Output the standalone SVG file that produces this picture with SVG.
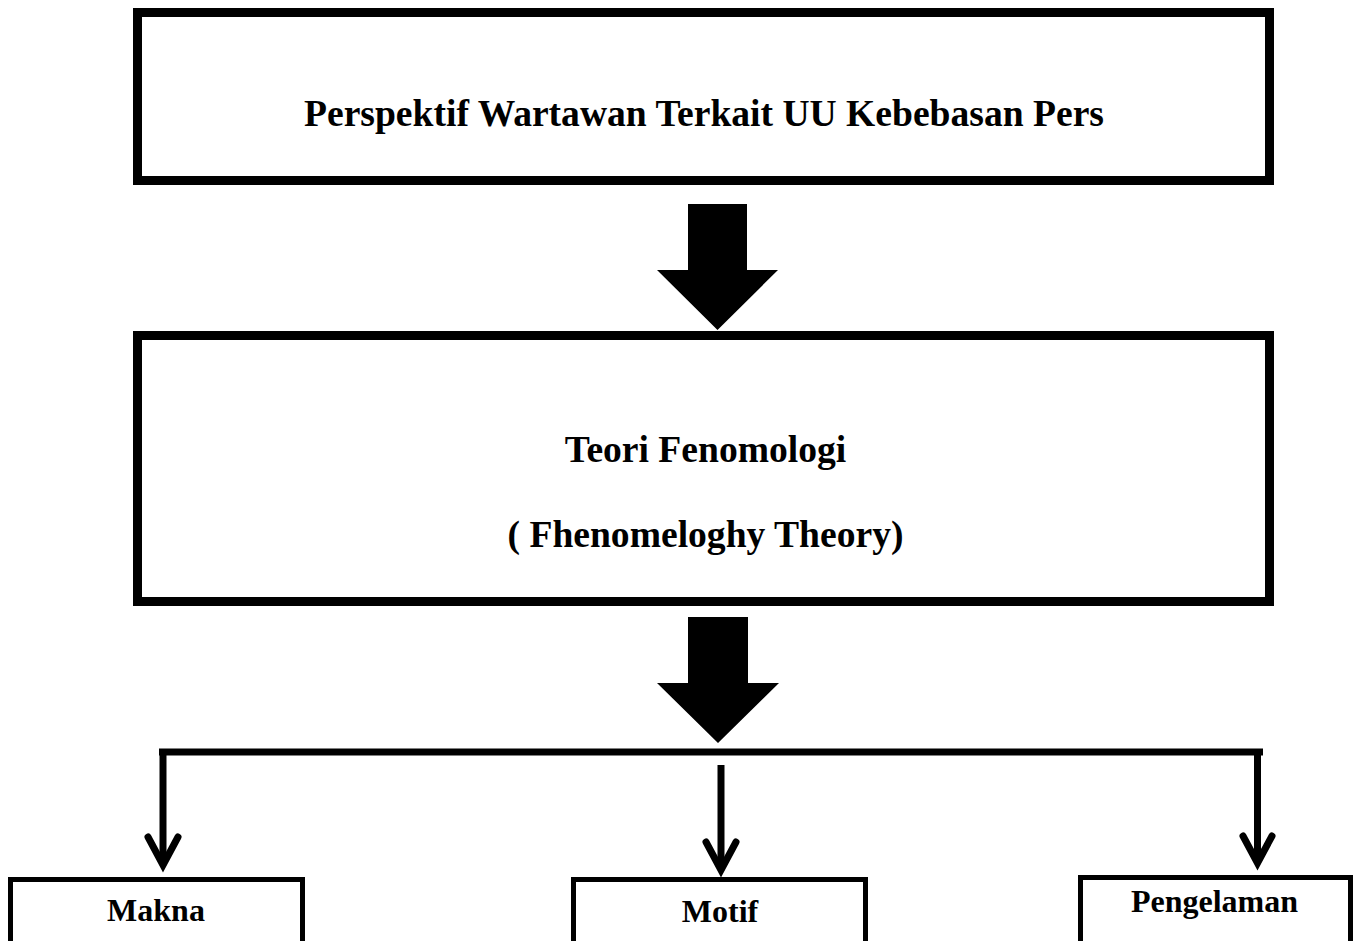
<svg xmlns="http://www.w3.org/2000/svg" width="1357" height="941" viewBox="0 0 1357 941">
<style>
.box{fill:#fff;stroke:#000}
.big{stroke-width:9}
.small{stroke-width:5}
.t{font-family:"Liberation Serif","Times New Roman",serif;font-weight:bold;fill:#000;text-anchor:middle}
.t35{font-size:37.6px}
.t30{font-size:32px}
.conn{fill:none;stroke:#000;stroke-width:7}
.chev{fill:none;stroke:#000;stroke-width:7;stroke-linecap:round;stroke-linejoin:miter;stroke-miterlimit:10}
.blk{fill:#000}
</style>
<rect width="1357" height="941" fill="#fff"/>
<g id="node-perspektif">
<rect class="box big" x="137.5" y="12.5" width="1132" height="168"/>
<text class="t t35" x="704" y="126">Perspektif Wartawan Terkait UU Kebebasan Pers</text>
</g>
<g id="node-teori">
<rect class="box big" x="137.5" y="335.5" width="1132" height="266"/>
<text class="t t35" x="705.5" y="462">Teori Fenomologi</text>
<text class="t t35" x="705.5" y="547">( Fhenomeloghy Theory)</text>
</g>
<g id="node-makna">
<rect class="box small" x="10.5" y="879.5" width="292" height="80"/>
<text class="t t30" x="156" y="921">Makna</text>
</g>
<g id="node-motif">
<rect class="box small" x="573.5" y="879.5" width="292" height="80"/>
<text class="t t30" x="720" y="922">Motif</text>
</g>
<g id="node-pengelaman">
<rect class="box small" x="1080.5" y="877.5" width="270" height="80"/>
<text class="t t30" x="1214.5" y="912">Pengelaman</text>
</g>
<g id="connectors">
<polygon class="blk" points="688,204 747,204 747,270 778,270 717.5,330 657,270 688,270"/>
<polygon class="blk" points="688,617 748,617 748,683 779,683 718,743 657,683 688,683"/>
<line class="conn" x1="159" y1="752" x2="1263" y2="752"/>
<line class="conn" x1="163" y1="752" x2="163" y2="864"/>
<polyline class="chev" points="148,837 163,865 178,837"/>
<line class="conn" x1="721" y1="765" x2="721" y2="869"/>
<polyline class="chev" points="706,842 721,870 736,842"/>
<line class="conn" x1="1257.5" y1="752" x2="1257.5" y2="862"/>
<polyline class="chev" points="1243,836 1257.5,863 1272,836"/>
</g>
</svg>
